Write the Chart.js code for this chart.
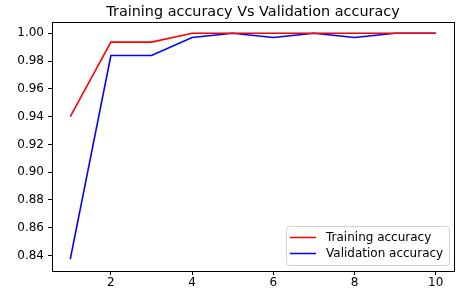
<!DOCTYPE html>
<html>
<head>
<meta charset="utf-8">
<script src="https://cdn.jsdelivr.net/npm/chart.js@4/dist/chart.umd.min.js"></script>
<style>
  html, body { margin: 0; padding: 0; background: #fff; }
  #wrap { width: 466px; height: 293px; }
</style>
</head>
<body>
<div id="wrap"><canvas id="acc"></canvas></div>
<script>
// ---------- data ----------
const epochs = [1, 2, 3, 4, 5, 6, 7, 8, 9, 10];
const trainAcc = [0.940, 0.9936, 0.9936, 1.000, 1.000, 1.000, 1.000, 1.000, 1.000, 1.000];
const valAcc = [0.8375, 0.984, 0.984, 0.997, 1.000, 0.997, 1.000, 0.997, 1.000, 1.000];
const xTicks = [2, 4, 6, 8, 10];
const yTicks = [0.84, 0.86, 0.88, 0.90, 0.92, 0.94, 0.96, 0.98, 1.00];
const titleText = 'Training accuracy Vs Validation accuracy';

const FONT = "'DejaVu Sans', sans-serif";

// Frame, title and in-plot legend, drawn like matplotlib does
const mplExtras = {
  id: 'mplExtras',
  afterDraw(chart) {
    const { ctx, chartArea: a } = chart;
    ctx.save();
    ctx.strokeStyle = '#000';
    ctx.lineWidth = 1;
    ctx.strokeRect(Math.round(a.left) + 0.5, Math.round(a.top) + 0.5,
      Math.round(a.right - a.left), Math.round(a.bottom - a.top));

    ctx.fillStyle = '#000';
    ctx.font = '14.4px ' + FONT;
    ctx.textAlign = 'center';
    ctx.textBaseline = 'middle';
    ctx.fillText(titleText, (a.left + a.right) / 2, 12);

    // legend box (lower right)
    const items = chart.data.datasets;
    const bw = 163, bh = 39;
    const bx = a.right - 5 - bw, by = a.bottom - 6 - bh;
    ctx.fillStyle = 'rgba(255,255,255,0.8)';
    ctx.strokeStyle = '#d0d0d0';
    ctx.beginPath();
    ctx.roundRect(bx + 0.5, by + 0.5, bw, bh, 3);
    ctx.fill();
    ctx.stroke();
    ctx.font = '12px ' + FONT;
    ctx.textAlign = 'left';
    items.forEach((ds, i) => {
      const y = by + 11.5 + i * 16;
      ctx.strokeStyle = ds.borderColor;
      ctx.lineWidth = 1.5;
      ctx.beginPath();
      ctx.moveTo(bx + 4, y);
      ctx.lineTo(bx + 30, y);
      ctx.stroke();
      ctx.fillStyle = '#000';
      ctx.fillText(ds.label, bx + 40, y);
    });
    ctx.restore();
  }
};

const toPoints = (ys) => ys.map((y, i) => ({ x: epochs[i], y }));

new Chart(document.getElementById('acc'), {
  type: 'line',
  data: {
    datasets: [
      {
        label: 'Training accuracy',
        data: toPoints(trainAcc),
        borderColor: '#ff0000',
        borderWidth: 1.6,
        pointRadius: 0,
        tension: 0,
        fill: false
      },
      {
        label: 'Validation accuracy',
        data: toPoints(valAcc),
        borderColor: '#0000ff',
        borderWidth: 1.6,
        pointRadius: 0,
        tension: 0,
        fill: false
      }
    ]
  },
  options: {
    responsive: true,
    maintainAspectRatio: false,
    animation: false,
    layout: { padding: { top: 22, right: 12, left: 0, bottom: 0 } },
    plugins: {
      legend: { display: false },
      title: { display: false },
      tooltip: { enabled: false }
    },
    scales: {
      x: {
        type: 'linear',
        min: 0.55,
        max: 10.45,
        afterBuildTicks: (s) => { s.ticks = xTicks.map(v => ({ value: v })); },
        afterFit: (s) => { s.height = 22; },
        grid: { drawOnChartArea: false, tickLength: 4, tickColor: '#000', tickWidth: 1 },
        border: { display: false },
        ticks: {
          color: '#000',
          font: { family: FONT, size: 12 },
          padding: 1,
          maxRotation: 0,
          callback: (v) => String(v)
        }
      },
      y: {
        type: 'linear',
        min: 0.8289,
        max: 1.0081,
        afterBuildTicks: (s) => { s.ticks = yTicks.map(v => ({ value: v })); },
        afterFit: (s) => { s.width = 52; },
        grid: { drawOnChartArea: false, tickLength: 4, tickColor: '#000', tickWidth: 1 },
        border: { display: false },
        ticks: {
          color: '#000',
          font: { family: FONT, size: 12 },
          padding: 4,
          callback: (v) => v.toFixed(2)
        }
      }
    }
  },
  plugins: [mplExtras]
});
</script>
</body>
</html>
